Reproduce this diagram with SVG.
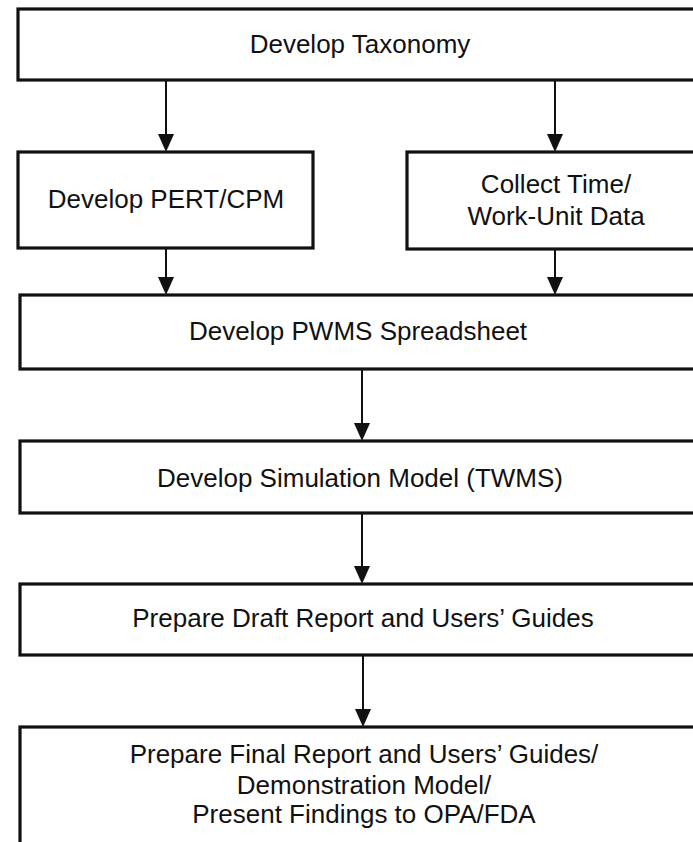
<svg xmlns="http://www.w3.org/2000/svg" width="693" height="842" viewBox="0 0 693 842">
  <style>
    .box { fill: #ffffff; stroke: #111111; stroke-width: 3.2; }
    .lbl { font-family: "Liberation Sans", Arial, Helvetica, sans-serif; font-size: 26px; fill: #111111; text-anchor: middle; }
    .conn { stroke: #111111; stroke-width: 2; fill: none; marker-end: url(#arrow); }
  </style>
  <defs>
    <marker id="arrow" markerUnits="userSpaceOnUse" viewBox="0 0 18 16" markerWidth="18" markerHeight="16" refX="14" refY="8" orient="auto">
      <path d="M0,0 L18,8 L0,16 z" fill="#111111"/>
    </marker>
  </defs>
  <rect width="693" height="842" fill="#ffffff"/>

  <g id="node-taxonomy">
    <rect class="box" x="18" y="9" width="700" height="71"/>
    <text class="lbl" x="360" y="53">Develop Taxonomy</text>
  </g>
  <g id="node-pert">
    <rect class="box" x="18" y="152" width="295" height="96"/>
    <text class="lbl" x="166" y="208">Develop PERT/CPM</text>
  </g>
  <g id="node-collect">
    <rect class="box" x="407" y="152" width="311" height="97"/>
    <text class="lbl" x="556" y="193">Collect Time/</text>
    <text class="lbl" x="556" y="225">Work-Unit Data</text>
  </g>
  <g id="node-pwms">
    <rect class="box" x="20" y="295" width="698" height="74"/>
    <text class="lbl" x="358" y="340">Develop PWMS Spreadsheet</text>
  </g>
  <g id="node-twms">
    <rect class="box" x="20" y="441" width="698" height="72"/>
    <text class="lbl" x="360" y="487">Develop Simulation Model (TWMS)</text>
  </g>
  <g id="node-draft">
    <rect class="box" x="20" y="584" width="698" height="71"/>
    <text class="lbl" x="363" y="627">Prepare Draft Report and Users’ Guides</text>
  </g>
  <g id="node-final">
    <rect class="box" x="20" y="727" width="698" height="140"/>
    <text class="lbl" x="364" y="763">Prepare Final Report and Users’ Guides/</text>
    <text class="lbl" x="364" y="794">Demonstration Model/</text>
    <text class="lbl" x="364" y="823">Present Findings to OPA/FDA</text>
  </g>

  <g id="connectors">
    <line class="conn" x1="166" y1="80" x2="166" y2="148"/>
    <line class="conn" x1="555" y1="80" x2="555" y2="148"/>
    <line class="conn" x1="166" y1="248" x2="166" y2="291"/>
    <line class="conn" x1="555" y1="249" x2="555" y2="291"/>
    <line class="conn" x1="362" y1="369" x2="362" y2="437"/>
    <line class="conn" x1="362" y1="513" x2="362" y2="580"/>
    <line class="conn" x1="363" y1="655" x2="363" y2="723"/>
  </g>
</svg>
